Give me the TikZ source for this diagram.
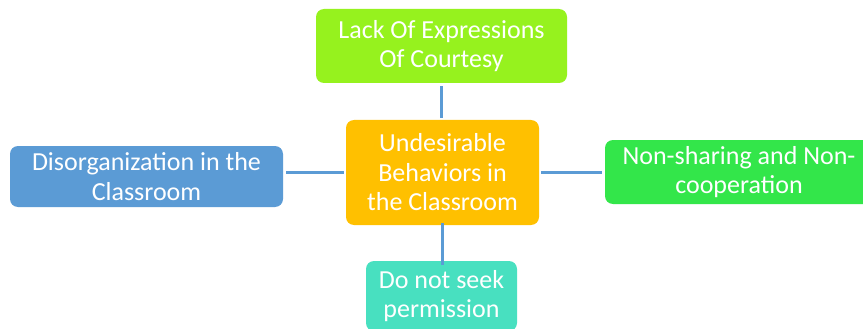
\documentclass[tikz,border=0pt]{standalone}
\usepackage{fontspec}
\setmainfont{Carlito}
\begin{document}
\begin{tikzpicture}[x=1pt,y=-1pt,
  box/.style={rounded corners=8pt, draw=none, text=white, align=center,
    inner sep=0pt, font=\fontsize{26}{29.5}\selectfont},
  link/.style={draw=linkblue, line width=2.2pt}]
\definecolor{limegreen}{RGB}{150,242,30}
\definecolor{coreorange}{RGB}{255,192,0}
\definecolor{steelblue}{RGB}{91,155,213}
\definecolor{brightgreen}{RGB}{51,230,74}
\definecolor{aqua}{RGB}{72,224,192}
\definecolor{linkblue}{RGB}{91,155,213}
\useasboundingbox (0,0) rectangle (863,329);
\fill[white] (0,0) rectangle (863,329);

\node[box, fill=coreorange, minimum width=193pt, minimum height=105pt] (core) at (442.5,172.5)
  {Undesirable\\Behaviors in\\the Classroom};
\node[box, fill=limegreen, minimum width=251pt, minimum height=74pt] (top) at (441.5,46)
  {Lack Of Expressions\\Of Courtesy};
\node[box, fill=steelblue, minimum width=273pt, minimum height=61pt] (left) at (146.5,176.5)
  {Disorganization in the\\Classroom};
\node[box, fill=brightgreen, minimum width=268pt, minimum height=64pt] (right) at (739,172)
  {Non-sharing and Non-\\cooperation};
\node[box, fill=aqua, minimum width=151pt, minimum height=70pt] (bottom) at (441.5,296)
  {Do not seek\\permission};

\draw[link] ([yshift=-3pt]top.south) -- ([yshift=2pt]top.south |- core.north);
\draw[link] ([xshift=-2pt]core.west) -- ([xshift=3pt]left.east |- core.west);
\draw[link] ([xshift=2pt]core.east) -- ([xshift=-3pt]right.west |- core.east);
\draw[link] ([yshift=2pt]core.south) -- ([yshift=-4pt]core.south |- bottom.north);
\end{tikzpicture}
\end{document}
